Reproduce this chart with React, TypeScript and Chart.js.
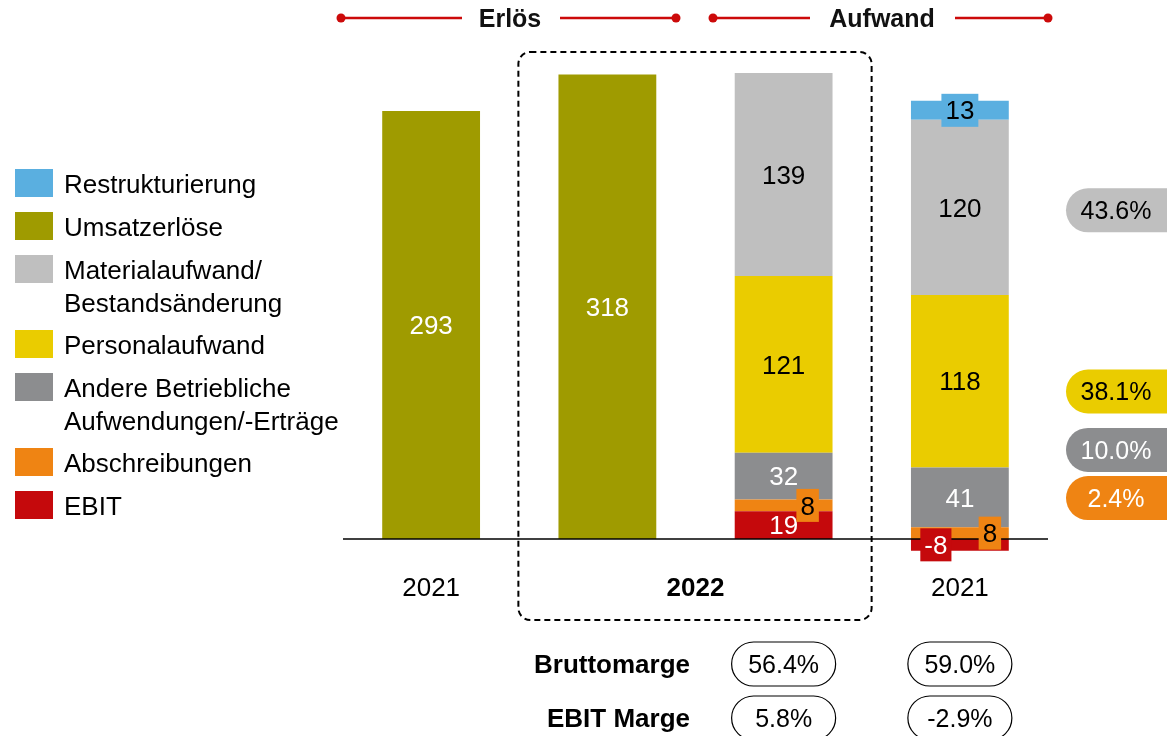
import React, { useEffect, useRef } from 'react';
import { Chart, registerables } from 'chart.js';
Chart.register(...registerables);

const categories = ['Erlös 2021', 'Erlös 2022', 'Aufwand 2022', 'Aufwand 2021'];
const xLabels = ['2021', '', '', '2021'];
const groupLabel = '2022';
const umsatzerloese = [293, 318, null, null];
const ebit = [null, null, 19, -8];
const abschreibungen = [null, null, 8, 8];
const andere = [null, null, 32, 41];
const personal = [null, null, 121, 118];
const material = [null, null, 139, 120];
const restrukturierung = [null, null, null, 13];
const shareLabels = ['43.6%', '38.1%', '10.0%', '2.4%'];
const shareAnchors = [225, 101, 61, 28];
const bruttomarge = ['56.4%', '59.0%'];
const ebitMarge = ['5.8%', '-2.9%'];

const C = {
  rest: '#5aafe0',
  umsatz: '#9f9b00',
  material: '#bfbfbf',
  personal: '#eacc00',
  andere: '#8c8d8f',
  abschr: '#ef8413',
  ebit: '#c5090c',
  red: '#cc0a0a',
};

const FONT = '"Liberation Sans", Arial, sans-serif';

type LabelStyle = { color: string; box?: boolean[]; dx?: number[] };
const labelStyles: Record<string, LabelStyle> = {
  'Umsatzerlöse': { color: '#fff' },
  'EBIT': { color: '#fff', box: [false, false, false, true], dx: [0, 0, 0, -24] },
  'Abschreibungen': { color: '#000', box: [false, false, true, true], dx: [0, 0, 24, 30] },
  'Andere Betriebliche Aufwendungen/-Erträge': { color: '#fff' },
  'Personalaufwand': { color: '#000' },
  'Materialaufwand/Bestandsänderung': { color: '#000' },
  'Restrukturierung': { color: '#000', box: [false, false, false, true], dx: [0, 0, 0, 0] },
};

const legendItems: { color: string; lines: string[] }[] = [
  { color: C.rest, lines: ['Restrukturierung'] },
  { color: C.umsatz, lines: ['Umsatzerlöse'] },
  { color: C.material, lines: ['Materialaufwand/', 'Bestandsänderung'] },
  { color: C.personal, lines: ['Personalaufwand'] },
  { color: C.andere, lines: ['Andere Betriebliche', 'Aufwendungen/-Erträge'] },
  { color: C.abschr, lines: ['Abschreibungen'] },
  { color: C.ebit, lines: ['EBIT'] },
];
const shareColors = [C.material, C.personal, C.andere, C.abschr];
const shareText = ['#000', '#000', '#fff', '#fff'];

function roundRect(ctx: CanvasRenderingContext2D, x: number, y: number, w: number, h: number, r: number) {
  ctx.beginPath();
  ctx.moveTo(x + r, y);
  ctx.lineTo(x + w - r, y);
  ctx.arcTo(x + w, y, x + w, y + r, r);
  ctx.lineTo(x + w, y + h - r);
  ctx.arcTo(x + w, y + h, x + w - r, y + h, r);
  ctx.lineTo(x + r, y + h);
  ctx.arcTo(x, y + h, x, y + h - r, r);
  ctx.lineTo(x, y + r);
  ctx.arcTo(x, y, x + r, y, r);
  ctx.closePath();
}

const overlay = {
  id: 'overlay',
  afterDatasetsDraw(chart: any) {
    const ctx: CanvasRenderingContext2D = chart.ctx;
    const xs = chart.scales.x;
    const ys = chart.scales.y;
    const { left, right, top } = chart.chartArea;
    const y0 = ys.getPixelForValue(0);
    ctx.save();
    // baseline
    ctx.strokeStyle = '#000';
    ctx.lineWidth = 1.5;
    ctx.beginPath();
    ctx.moveTo(left, y0);
    ctx.lineTo(right, y0);
    ctx.stroke();

    // bar labels
    ctx.font = `26px ${FONT}`;
    ctx.textAlign = 'center';
    ctx.textBaseline = 'middle';
    chart.data.datasets.forEach((ds: any, di: number) => {
      const meta = chart.getDatasetMeta(di);
      const st = labelStyles[ds.label];
      meta.data.forEach((el: any, i: number) => {
        const v = ds.data[i];
        if (v == null) return;
        const dx = st.dx ? st.dx[i] : 0;
        const cx = el.x + dx;
        const cy = (el.y + el.base) / 2;
        const txt = String(v);
        if (st.box && st.box[i]) {
          const w = ctx.measureText(txt).width + 8;
          const h = 33;
          ctx.fillStyle = ds.backgroundColor;
          ctx.fillRect(cx - w / 2, cy - h / 2, w, h);
        }
        ctx.fillStyle = st.color;
        ctx.fillText(txt, cx, cy + 2);
      });
    });

    // header
    const hy = 18;
    const drawSeg = (x1: number, x2: number, dotLeft: boolean) => {
      ctx.strokeStyle = C.red;
      ctx.lineWidth = 2.5;
      ctx.beginPath();
      ctx.moveTo(x1, hy);
      ctx.lineTo(x2, hy);
      ctx.stroke();
      ctx.fillStyle = C.red;
      ctx.beginPath();
      ctx.arc(dotLeft ? x1 : x2, hy, 4.5, 0, Math.PI * 2);
      ctx.fill();
    };
    drawSeg(left - 2, 462, true);
    drawSeg(560, 676, false);
    drawSeg(713, 810, true);
    drawSeg(955, right, false);
    ctx.fillStyle = '#111';
    ctx.font = `bold 25px ${FONT}`;
    ctx.fillText('Erlös', 510, hy + 2);
    ctx.fillText('Aufwand', 882, hy + 2);

    // dashed frame around 2022
    const fx1 = xs.getPixelForValue(1) - 89;
    const fx2 = xs.getPixelForValue(2) + 88;
    ctx.strokeStyle = '#000';
    ctx.lineWidth = 2;
    ctx.setLineDash([6, 4]);
    roundRect(ctx, fx1, top - 5, fx2 - fx1, 620 - (top - 5), 12);
    ctx.stroke();
    ctx.setLineDash([]);

    // x labels
    ctx.fillStyle = '#000';
    ctx.font = `26px ${FONT}`;
    xLabels.forEach((t, i) => {
      if (t) ctx.fillText(t, xs.getPixelForValue(i), 589);
    });
    ctx.font = `bold 26px ${FONT}`;
    ctx.fillText(groupLabel, (xs.getPixelForValue(1) + xs.getPixelForValue(2)) / 2, 589);

    // legend
    ctx.textAlign = 'left';
    let ly = 169;
    legendItems.forEach((it) => {
      ctx.fillStyle = it.color;
      ctx.fillRect(15, ly, 38, 28);
      ctx.fillStyle = '#000';
      ctx.font = `26px ${FONT}`;
      it.lines.forEach((ln, k) => ctx.fillText(ln, 64, ly + 17 + k * 33));
      ly += 43 + (it.lines.length - 1) * 32;
    });

    // share pills
    ctx.textAlign = 'center';
    shareLabels.forEach((t, i) => {
      const cy = ys.getPixelForValue(shareAnchors[i]);
      ctx.fillStyle = shareColors[i];
      roundRect(ctx, 1066, cy - 22, 130, 44, 22);
      ctx.fill();
      ctx.fillStyle = shareText[i];
      ctx.font = `25px ${FONT}`;
      ctx.fillText(t, 1116, cy + 2);
    });

    // margin rows
    const rows: [string, string[], number][] = [
      ['Bruttomarge', bruttomarge, 664],
      ['EBIT Marge', ebitMarge, 718],
    ];
    rows.forEach(([name, vals, cy]) => {
      ctx.textAlign = 'right';
      ctx.fillStyle = '#000';
      ctx.font = `bold 26px ${FONT}`;
      ctx.fillText(name, 690, cy + 2);
      ctx.textAlign = 'center';
      ctx.font = `25px ${FONT}`;
      vals.forEach((v, k) => {
        const cx = xs.getPixelForValue(2 + k);
        ctx.strokeStyle = '#000';
        ctx.lineWidth = 1.2;
        roundRect(ctx, cx - 52, cy - 22, 104, 44, 22);
        ctx.stroke();
        ctx.fillStyle = '#000';
        ctx.fillText(v, cx, cy + 2);
      });
    });
    ctx.restore();
  },
};

export default function App() {
  const ref = useRef<HTMLCanvasElement | null>(null);
  useEffect(() => {
    document.body.style.margin = '0';
    const mk = (label: string, data: (number | null)[], color: string) => ({
      label,
      data,
      backgroundColor: color,
      borderWidth: 0,
      stack: 's',
      barPercentage: 0.555,
      categoryPercentage: 1,
    });
    const chart = new Chart(ref.current!, {
      type: 'bar',
      data: {
        labels: categories,
        datasets: [
          mk('Umsatzerlöse', umsatzerloese, C.umsatz),
          mk('EBIT', ebit, C.ebit),
          mk('Abschreibungen', abschreibungen, C.abschr),
          mk('Andere Betriebliche Aufwendungen/-Erträge', andere, C.andere),
          mk('Personalaufwand', personal, C.personal),
          mk('Materialaufwand/Bestandsänderung', material, C.material),
          mk('Restrukturierung', restrukturierung, C.rest),
        ] as any,
      },
      options: {
        responsive: false,
        animation: false,
        layout: { padding: { left: 343, right: 119, top: 57, bottom: 182.4 } },
        plugins: { legend: { display: false }, tooltip: { enabled: false } },
        scales: {
          x: { display: false, stacked: true },
          y: { display: false, stacked: true, min: -10, max: 330 },
        },
      },
      plugins: [overlay],
    });
    return () => chart.destroy();
  }, []);
  return (
    <div style={{ position: 'absolute', left: 0, top: 0, width: 1167, height: 736, background: '#fff' }}>
      <canvas ref={ref} width={1167} height={736} style={{ width: 1167, height: 736 }} />
    </div>
  );
}
